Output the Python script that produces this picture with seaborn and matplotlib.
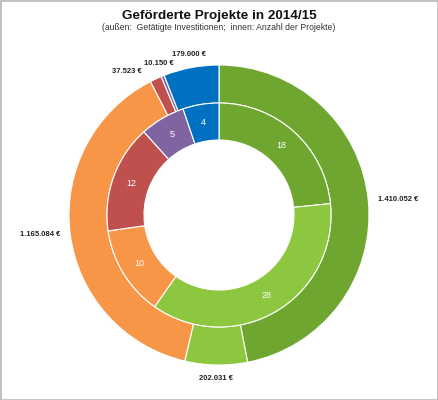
import numpy as np
import matplotlib
matplotlib.use("Agg")
import matplotlib.pyplot as plt
import seaborn as sns

# data (clockwise from 12 o'clock)
outer_values = [1410052, 202031, 1165084, 37523, 10150, 179000]
outer_labels = ["1.410.052 €", "202.031 €", "1.165.084 €", "37.523 €", "10.150 €", "179.000 €"]
inner_values = [18, 28, 10, 12, 5, 4]
outer_colors = ["#6fa62f", "#8dc63f", "#f79646", "#c0504d", "#8064a2", "#0070c0"]
inner_colors = ["#6fa62f", "#8dc63f", "#f79646", "#c0504d", "#8064a2", "#0070c0"]
# small angular nudges (deg) so the crowded labels at the top do not overlap
label_nudge = [0, 0, 0, -4, 0, 0]

sns.set_theme(style="white")
plt.rcParams["font.family"] = ["Liberation Sans", "DejaVu Sans"]

W, H = 438, 400
fig = plt.figure(figsize=(W / 100, H / 100), dpi=100)
ax = fig.add_axes([0, 0, 1, 1])

cx, cy = 219, H - 215
R_out, R_mid, R_in = 150, 112, 75

ax.pie(outer_values, colors=outer_colors, startangle=90, counterclock=False,
       radius=R_out, center=(cx, cy), frame=True,
       wedgeprops=dict(width=R_out - R_mid, edgecolor="white", linewidth=0.8))
ax.pie(inner_values, colors=inner_colors, startangle=90, counterclock=False,
       radius=R_mid, center=(cx, cy), frame=True,
       labels=[str(v) for v in inner_values], labeldistance=(R_mid + R_in) / 2 / R_mid,
       textprops=dict(color="white", fontsize=6.5, ha="center", va="center"),
       wedgeprops=dict(width=R_mid - R_in, edgecolor="white", linewidth=0.8))
ax.set_xlim(0, W)
ax.set_ylim(0, H)
ax.set_aspect("equal")
ax.axis("off")

# outer value labels
tot = sum(outer_values)
start = 0.0
for val, lab, nud in zip(outer_values, outer_labels, label_nudge):
    span = val / tot * 360
    mid = np.radians(start + span / 2 + nud)
    start += span
    s, c = np.sin(mid), np.cos(mid)
    r = R_out + 10
    x, y = cx + r * s, cy + r * c
    ha = "left" if s > 0.4 else ("right" if s < -0.4 else "center")
    va = "bottom" if c > 0.4 else ("top" if c < -0.4 else "center")
    ax.text(x, y, lab, ha=ha, va=va, fontsize=5.5, fontweight="bold", color="#222222")

fig.text(0.5, 1 - 16 / H, "Geförderte Projekte in 2014/15", ha="center", va="center",
         fontsize=9.7, fontweight="bold", color="#111111")
fig.text(0.5, 1 - 28 / H, "(außen:  Getätigte Investitionen;  innen: Anzahl der Projekte)",
         ha="center", va="center", fontsize=6.2, color="#333333")

fig.patches.append(plt.Rectangle((0, 0), 1, 1, transform=fig.transFigure, fill=False,
                                 edgecolor="#bfbfbf", linewidth=2))

fig.savefig("out.png", dpi=100, facecolor="white")
